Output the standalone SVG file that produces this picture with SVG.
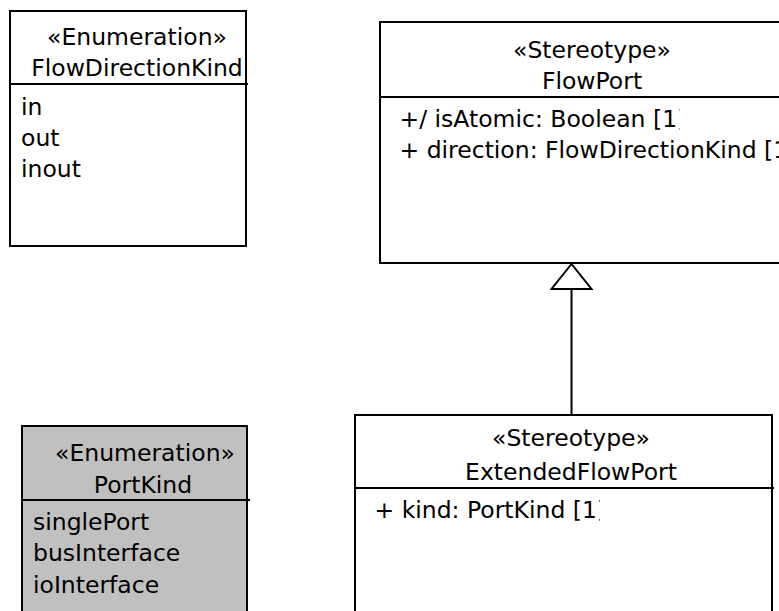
<svg xmlns="http://www.w3.org/2000/svg" width="779" height="611" viewBox="0 0 779 611">
<style>
  .box { fill: #ffffff; stroke: #000000; stroke-width: 2; }
  .gray { fill: #c0c0c0; }
  .div { stroke: #000000; stroke-width: 2; fill: none; }
  text { font-family: "DejaVu Sans", Verdana, sans-serif; font-size: 23.5px; fill: #000000; }
  .c { text-anchor: middle; }
  .edge { stroke: #000000; stroke-width: 2; fill: none; }
</style>
<defs>
  <clipPath id="clipAtomic"><rect x="380" y="100" width="299.6" height="40"/></clipPath>
  <clipPath id="clipKind"><rect x="356" y="492" width="244" height="40"/></clipPath>
</defs>
<rect width="779" height="611" fill="#ffffff"/>

<g id="FlowDirectionKind">
  <rect class="box" x="10" y="11" width="236" height="235"/>
  <line class="div" x1="10" y1="84" x2="248" y2="84"/>
  <text class="c" x="137" y="45">«Enumeration»</text>
  <text class="c" x="137" y="76">FlowDirectionKind</text>
  <text x="21" y="115">in</text>
  <text x="21" y="146">out</text>
  <text x="21" y="177">inout</text>
</g>

<g id="FlowPort">
  <rect class="box" x="380" y="22" width="430" height="241"/>
  <line class="div" x1="380" y1="97" x2="779" y2="97"/>
  <text class="c" x="592" y="58">«Stereotype»</text>
  <text class="c" x="592" y="89">FlowPort</text>
  <text x="399.5" y="127" clip-path="url(#clipAtomic)">+/ isAtomic: Boolean [1]</text>
  <text x="399.5" y="158">+ direction: FlowDirectionKind [1]</text>
</g>

<g id="PortKind">
  <rect class="box gray" x="22" y="426" width="225" height="200"/>
  <line class="div" x1="22" y1="500" x2="250" y2="500"/>
  <text class="c" x="145" y="461">«Enumeration»</text>
  <text class="c" x="143" y="493">PortKind</text>
  <text x="33" y="530">singlePort</text>
  <text x="33" y="561">busInterface</text>
  <text x="33" y="593">ioInterface</text>
</g>

<g id="ExtendedFlowPort">
  <rect class="box" x="355" y="415" width="417" height="210"/>
  <line class="div" x1="355" y1="488" x2="774" y2="488"/>
  <text class="c" x="571" y="446">«Stereotype»</text>
  <text class="c" x="571" y="480">ExtendedFlowPort</text>
  <text x="374.5" y="518" clip-path="url(#clipKind)">+ kind: PortKind [1]</text>
</g>

<g id="connectors">
  <line class="edge" x1="571.5" y1="415" x2="571.5" y2="289"/>
  <polygon class="edge" points="571.5,264 551.5,289 591.5,289" fill="#ffffff"/>
</g>
</svg>
